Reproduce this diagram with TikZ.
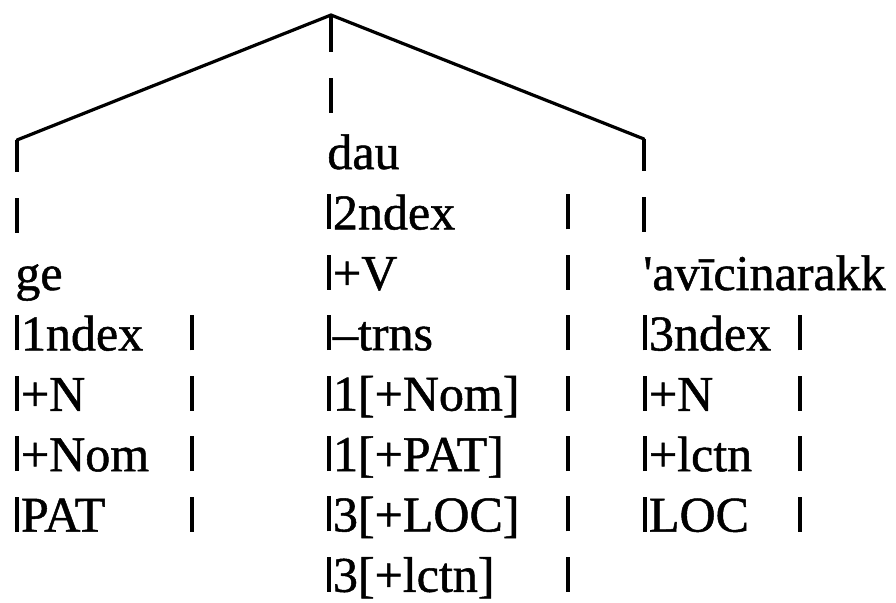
\documentclass[tikz,border=0pt]{standalone}
\usepackage{fontspec}
\setmainfont[FakeBold=1]{Liberation Serif}
\usepackage{tikz}

% bars of the feature lists
\newcommand{\fbar}{\rule{1.8pt}{17.5pt}}
\newcommand{\obar}{\fbar\hspace{1pt}}

\begin{document}
\begin{tikzpicture}[
	x=0.5pt, y=-0.5pt,
	every node/.style={font=\fontsize{25}{30.2}\selectfont, inner sep=0pt, anchor=base west},
	branch/.style={line width=1.6pt, line cap=round},
	stem/.style={line width=1.6pt, dash pattern=on #1 off 13pt on 17.5pt off 80pt}
	]
	\useasboundingbox (0,0) rectangle (896,602);
	
	% Tree top
	\coordinate (apex) at (331,15);
	\coordinate (lcorner) at (17,140);
	\coordinate (rcorner) at (644,139);
	
	% Left word
	\node (lcol) at (15,290) {\begin{tabular}[t]{@{}p{87.5pt}@{}l@{}}
			\multicolumn{2}{@{}l@{}}{ge}\\
			\obar 1ndex & \fbar\\
			\obar +N & \fbar\\
			\obar +Nom & \fbar\\
			\obar PAT & \fbar
		\end{tabular}};
	
	% Head (verb)
	\node (ccol) at (327,169) {\begin{tabular}[t]{@{}p{119.5pt}@{}l@{}}
			\multicolumn{2}{@{}l@{}}{dau}\\
			\obar 2ndex & \fbar\\
			\obar +V & \fbar\\
			\obar --trns & \fbar\\
			\obar 1[+Nom] & \fbar\\
			\obar 1[+PAT] & \fbar\\
			\obar 3[+LOC] & \fbar\\
			\obar 3[+lctn] & \fbar
		\end{tabular}};
	
	% Right word
	\node (rcol) at (643,290) {\begin{tabular}[t]{@{}p{77.5pt}@{}l@{}}
			\multicolumn{2}{@{}l@{}}{\textquotesingle avīcinarakk}\\
			\obar 3ndex & \fbar\\
			\obar +N & \fbar\\
			\obar +lctn & \fbar\\
			\obar LOC & \fbar
		\end{tabular}};
	
	% Branches
	\draw[branch] (lcorner) -- (apex) -- (rcorner);
	\draw[stem=18.5pt] (apex) -- (apex |- ccol.north);
	\draw[stem=16pt] (lcorner) -- (lcorner |- lcol.north);
	\draw[stem=16pt] (rcorner) -- (rcorner |- rcol.north);
	
\end{tikzpicture}
\end{document}
